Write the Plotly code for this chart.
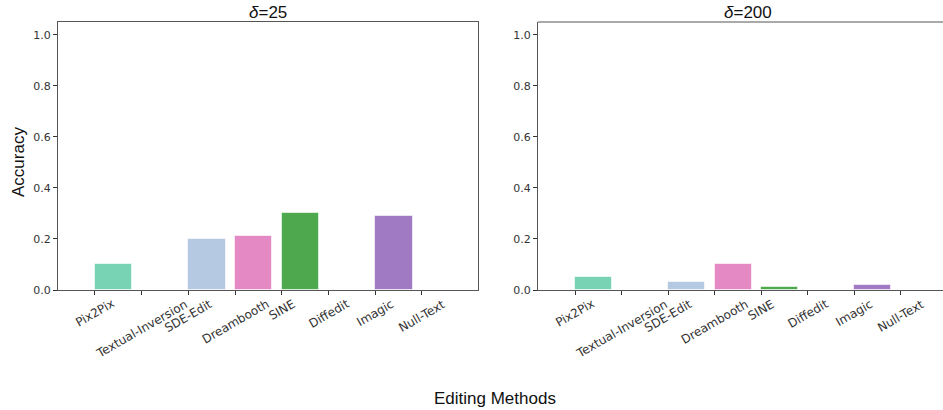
import plotly.graph_objects as go

methods = ["Pix2Pix", "Textual-Inversion", "SDE-Edit", "Dreambooth", "SINE", "Diffedit", "Imagic", "Null-Text"]
acc_d25 = [0.10, 0.0, 0.20, 0.21, 0.30, 0.0, 0.29, 0.0]
acc_d200 = [0.05, 0.0, 0.03, 0.10, 0.01, 0.0, 0.02, 0.0]
colors = ["#78d3b4", "#b2c4e0", "#b6c9e2", "#e589c5", "#4ea84e", "#8c8c8c", "#a07bc3", "#8c8c8c"]
titles = ["<i>δ</i>=25", "<i>δ</i>=200"]
y_ticks = [0.0, 0.2, 0.4, 0.6, 0.8, 1.0]

W, H = 943, 410
xpos = list(range(len(methods)))

fig = go.Figure()
for k, vals in enumerate([acc_d25, acc_d200]):
    fig.add_trace(go.Bar(
        x=xpos, y=vals, width=0.8, offset=0,
        marker=dict(color=colors, line=dict(color="rgba(255,255,255,0.6)", width=1)),
        xaxis="x" if k == 0 else "x2", yaxis="y" if k == 0 else "y2",
        showlegend=False,
    ))

ydom = [(H - 290) / H, (H - 22) / H]
axfont = dict(family="DejaVu Sans", size=12, color="#333")
common_x = dict(tickvals=xpos, showticklabels=False, ticks="outside", ticklen=4,
                tickcolor="#333", showline=True, linecolor="#555", linewidth=1,
                showgrid=False, zeroline=False)
common_y = dict(range=[0, 1.05], tickvals=y_ticks, tickformat=".1f", ticks="outside",
                ticklen=4, tickcolor="#333", showline=True, linecolor="#555", linewidth=1,
                showgrid=False, zeroline=False, tickfont=dict(family="DejaVu Sans", size=11, color="#333"))

fig.update_layout(
    width=W, height=417, autosize=False, margin=dict(l=0, r=0, t=0, b=0),
    plot_bgcolor="white", paper_bgcolor="white", bargap=0,
    xaxis=dict(domain=[58 / W, 478 / W], range=[-0.79, 8.2], mirror=True, anchor="y", **common_x),
    yaxis=dict(domain=ydom, mirror=True, anchor="x", **common_y),
    xaxis2=dict(domain=[538 / W, 1.0], range=[-0.8, 7.91], anchor="y2", **common_x),
    yaxis2=dict(domain=ydom, anchor="x2", **common_y),
)

# top spine for the right panel (its right edge is cropped)
fig.add_shape(type="line", xref="x2 domain", yref="y2 domain", x0=0, x1=1, y0=1, y1=1,
              line=dict(color="#555", width=1))

annots = []
for k, xr in enumerate(["x", "x2"]):
    for i, m in enumerate(methods):
        annots.append(dict(x=i, y=(H - 294) / H, xref=xr, yref="paper", text=m,
                           showarrow=False, textangle=-30, xanchor="center", yanchor="top",
                           font=axfont))
tfont = dict(family="Liberation Sans", size=17, color="#111")
annots.append(dict(x=(58 + 478) / 2 / W, y=(H - 12) / H, xref="paper", yref="paper",
                   text=titles[0], showarrow=False, xanchor="center", yanchor="middle", font=tfont))
annots.append(dict(x=(538 + 958) / 2 / W, y=(H - 12) / H, xref="paper", yref="paper",
                   text=titles[1], showarrow=False, xanchor="center", yanchor="middle", font=tfont))
annots.append(dict(x=18 / W, y=(H - 162) / H, xref="paper", yref="paper", text="Accuracy",
                   showarrow=False, textangle=-90, xanchor="center", yanchor="middle", font=tfont))
annots.append(dict(x=495 / W, y=(H - 398) / H, xref="paper", yref="paper", text="Editing Methods",
                   showarrow=False, xanchor="center", yanchor="middle", font=tfont))
fig.update_layout(annotations=annots)

fig.write_html("out.html", config={"displayModeBar": False, "responsive": False},
               post_script="document.body.style.margin='0';document.body.style.overflow='hidden';")
